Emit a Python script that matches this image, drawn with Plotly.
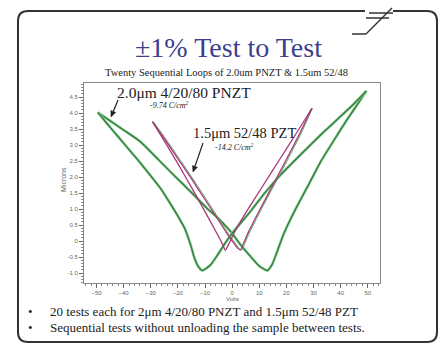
import math
import plotly.graph_objects as go

# ---------------- data ----------------
# 2.0um 4/20/80 PNZT butterfly loop
pnzt_up_v = [-49.5, -45, -40, -33.7, -27, -21.5, -15, -9.2, -5, -1.8, 0, 3, 7, 10, 13,
             14.8, 16.5, 19, 21.5, 24, 28.8, 32.5, 37, 42, 46, 49.5]
pnzt_up_y = [4.02, 3.76, 3.47, 3.10, 2.53, 2.06, 1.52, 1.02, 0.70, 0.42, 0.24, -0.10, -0.50,
             -0.78, -0.92, -0.72, -0.35, 0.22, 0.68, 1.10, 1.86, 2.46, 3.08, 3.75, 4.25, 4.69]
pnzt_dn_v = [49.5, 45, 40, 32.5, 25, 17.8, 12, 6.7, 3, 0, -3, -5.5, -8, -11, -12.8, -14,
             -15.3, -17.5, -20.2, -23, -26.4, -30, -33.7, -38, -42, -46, -49.5]
pnzt_dn_y = [4.69, 4.30, 3.90, 3.31, 2.68, 2.06, 1.50, 0.92, 0.55, 0.24, -0.12, -0.45, -0.75,
             -0.92, -0.75, -0.50, -0.12, 0.40, 0.81, 1.20, 1.65, 2.04, 2.43, 2.86, 3.26, 3.66, 4.02]

# 1.5um 52/48 PZT butterfly loop
pzt_up_v = [-29.4, -25, -20, -15, -10, -6, -2, 0.5, 2, 3.05, 4.3, 6, 10, 15, 20, 25, 29.4]
pzt_up_y = [3.73, 3.20, 2.58, 1.95, 1.30, 0.78, 0.25, -0.05, -0.22, -0.28, -0.05, 0.28,
            0.95, 1.75, 2.55, 3.38, 4.15]
pzt_dn_v = [29.4, 25, 20, 15, 10, 5, 1, -1, -2.5, -3.8, -6, -10, -15, -20, -25, -29.4]
pzt_dn_y = [4.15, 3.55, 2.88, 2.22, 1.55, 0.88, 0.30, -0.05, -0.28, -0.05, 0.30, 0.92,
            1.68, 2.42, 3.13, 3.73]
# another of the sequential PZT loops (drawn green, almost on top)
pzt2_up_v = [-29.0, -24.5, -19.5, -14.5, -9.5, -5.5, -1.5, 1.0, 2.5, 3.6, 4.8, 6.5, 10.5,
             15.5, 20.5, 25.5, 29.6]
pzt2_up_y = [3.73, 3.20, 2.58, 1.95, 1.30, 0.78, 0.25, -0.05, -0.22, -0.28, -0.05, 0.28,
             0.95, 1.75, 2.55, 3.38, 4.15]

y_tick_vals = [4.5, 4.0, 3.5, 3.0, 2.5, 2.0, 1.5, 1.0, 0.5, 0, -0.5, -1.0]
y_tick_text = ["4.5", "4.0", "3.5", "3.0", "2.5", "2.0", "1.5", "1.0", "0.5", "0", "-0.5", "-1.0"]
x_tick_vals = [-50, -40, -30, -20, -10, 0, 10, 20, 30, 40, 50]

# ---------------- figure ----------------
W, H = 442, 343
L, R, T, B = 84, 380, 83, 283   # plot area in pixels


def px(x):
    return (x - L) / (R - L)


def py(y):
    return (B - y) / (B - T)


fig = go.Figure()

GREEN_LIGHT = "#93d193"
GREEN_DARK = "#2f7a42"
MAGENTA = "#a8387a"

for v, y in [(pnzt_up_v, pnzt_up_y), (pnzt_dn_v, pnzt_dn_y)]:
    fig.add_trace(go.Scatter(x=v, y=y, mode="lines",
                             line=dict(color=GREEN_LIGHT, width=2.8, shape="spline",
                                       smoothing=0.5),
                             hoverinfo="skip", showlegend=False))
    fig.add_trace(go.Scatter(x=v, y=y, mode="lines",
                             line=dict(color=GREEN_DARK, width=1.3, shape="spline",
                                       smoothing=0.5),
                             showlegend=False))

fig.add_trace(go.Scatter(x=pzt2_up_v, y=pzt2_up_y, mode="lines",
                         line=dict(color="#5aa860", width=1.0, shape="spline", smoothing=0.5),
                         showlegend=False))
for v, y in [(pzt_up_v, pzt_up_y), (pzt_dn_v, pzt_dn_y)]:
    fig.add_trace(go.Scatter(x=v, y=y, mode="lines",
                             line=dict(color=MAGENTA, width=1.3, shape="spline", smoothing=0.5),
                             showlegend=False))

SERIF = "Liberation Serif"
SANS = "Liberation Sans"

fig.update_xaxes(range=[-54.6, 54.5], tickvals=x_tick_vals, ticks="outside", ticklen=4,
                 tickwidth=1, tickcolor="#666", showline=True, linecolor="#888", linewidth=1,
                 mirror=True, showgrid=False, zeroline=False,
                 tickfont=dict(family=SANS, size=6, color="#666"),
                 minor=dict(dtick=2, ticks="outside", ticklen=2, tickcolor="#888"))
fig.update_yaxes(range=[-1.31, 4.94], tickvals=y_tick_vals, ticktext=y_tick_text,
                 ticks="outside", ticklen=4, tickwidth=1, tickcolor="#666", showline=True,
                 linecolor="#888", linewidth=1, mirror=True, showgrid=False, zeroline=False,
                 tickfont=dict(family=SANS, size=6, color="#666"),
                 minor=dict(dtick=0.1, ticks="outside", ticklen=2, tickcolor="#888"))


def label(text, x, y, size, xanchor="center", family=SERIF, color="#222", **kw):
    return dict(text=text, x=px(x), y=py(y), xref="paper", yref="paper", xanchor=xanchor,
                yanchor="middle", showarrow=False, font=dict(family=family, size=size,
                                                            color=color), **kw)


ann = []
ann.append(label("±1% Test to Test", 228, 48, 28, color="#3b3f8e"))
ann.append(label("Twenty Sequential Loops of 2.0um PNZT &amp; 1.5um 52/48", 226.5, 73, 10.5))
ann.append(label("2.0μm 4/20/80 PNZT", 115, 92, 15.5, xanchor="left"))
ann.append(label("<i>-9.74 C/cm<sup>2</sup></i>", 148, 105, 8, xanchor="left"))
ann.append(label("1.5μm 52/48 PZT", 191, 133, 14.5, xanchor="left"))
ann.append(label("<i>-14.2 C/cm<sup>2</sup></i>", 213, 147, 8, xanchor="left"))
# axis titles
ann.append(label("Microns", 63, 180, 7, family=SANS, color="#666", textangle=-90))
ann.append(label("Volts", 232, 299, 6, family=SANS, color="#666"))
# bullets
for yy, txt in [(311, "20 tests each for 2μm 4/20/80 PNZT and 1.5μm 52/48 PZT"),
                (327, "Sequential tests without unloading the sample between tests.")]:
    ann.append(label("•", 30, yy, 13))
    ann.append(label(txt, 48, yy, 13, xanchor="left"))


def pt(x, y):
    return f"{px(x):.4f},{py(y):.4f}"


border = (f"M {pt(365, 11)} L {pt(28, 11)} Q {pt(18, 11)} {pt(18, 21)} L {pt(18, 332)} "
          f"Q {pt(18, 342)} {pt(28, 342)} L {pt(427, 342)} Q {pt(437, 342)} {pt(437, 332)} "
          f"L {pt(437, 21)} Q {pt(437, 11)} {pt(427, 11)} L {pt(393, 11)}")
shapes = [dict(type="path", path=border, xref="paper", yref="paper",
               line=dict(color="#333", width=2))]
for (x0, y0, x1, y1) in [(392, 8, 366, 34), (352, 34, 366, 34), (369, 13, 393, 13),
                         (366, 18, 389, 18)]:
    shapes.append(dict(type="line", x0=px(x0), y0=py(y0), x1=px(x1), y1=py(y1),
                       xref="paper", yref="paper", line=dict(color="#333", width=1.5)))

# pointer arrows (tail -> head, in pixels)
for (tx, ty, hx, hy) in [(118, 100, 111, 117), (203, 143, 193, 172)]:
    d = math.hypot(hx - tx, hy - ty)
    ux, uy = (hx - tx) / d, (hy - ty) / d
    bx, by = hx - 6 * ux, hy - 6 * uy
    shapes.append(dict(type="line", x0=px(tx), y0=py(ty), x1=px(bx), y1=py(by),
                       xref="paper", yref="paper", line=dict(color="#222", width=1.2)))
    p1 = (bx - 2.6 * uy, by + 2.6 * ux)
    p2 = (bx + 2.6 * uy, by - 2.6 * ux)
    shapes.append(dict(type="path", xref="paper", yref="paper",
                       path=f"M {pt(hx, hy)} L {pt(*p1)} L {pt(*p2)} Z",
                       fillcolor="#222", line=dict(color="#222", width=0.5)))

fig.update_layout(width=W, height=H, autosize=False,
                  margin=dict(l=L, r=W - R, t=T, b=H - B, pad=0),
                  paper_bgcolor="white", plot_bgcolor="white",
                  annotations=ann, shapes=shapes, showlegend=False)

fig.write_html("out.html")
